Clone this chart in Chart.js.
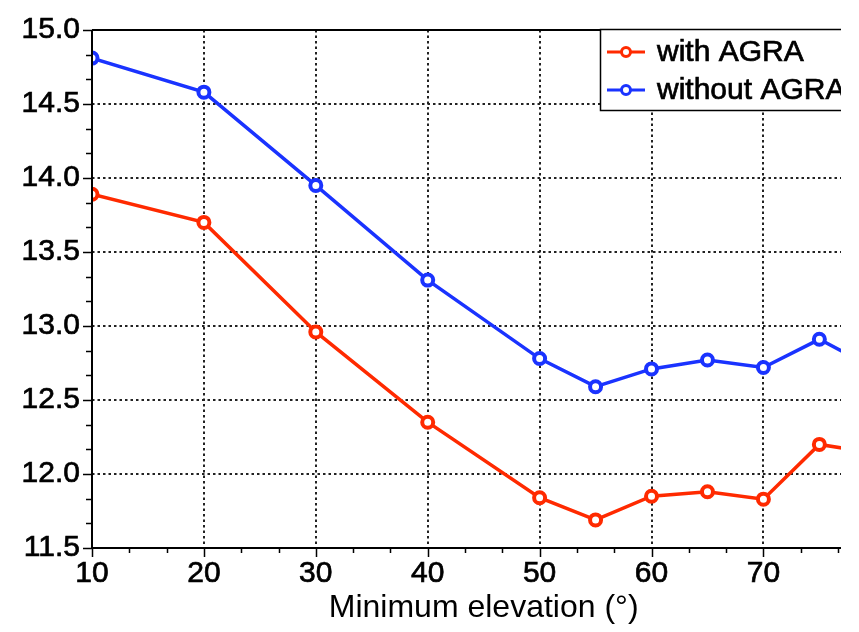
<!DOCTYPE html>
<html>
<head>
<meta charset="utf-8">
<script src="https://cdn.jsdelivr.net/npm/chart.js@4/dist/chart.umd.min.js"></script>
<style>
  html, body { margin: 0; background: #fff; }
  #wrap { width: 841px; height: 632px; overflow: hidden; }
  #box { width: 900px; height: 632px; position: relative; }
</style>
</head>
<body>
<div id="wrap"><div id="box"><canvas id="chart"></canvas></div></div>
<script>
// Data
const elevations = [10, 20, 30, 40, 50, 55, 60, 65, 70, 75, 80];
const withAgra = [13.89, 13.70, 12.96, 12.35, 11.84, 11.69, 11.85, 11.88, 11.83, 12.20, 12.14];
const withoutAgra = [14.81, 14.58, 13.95, 13.31, 12.78, 12.59, 12.71, 12.77, 12.72, 12.91, 12.71];
const seriesLabels = ['with AGRA', 'without AGRA'];
const seriesColors = ['#ff2a00', '#1a33ff'];

const FONT = "'Liberation Sans', Arial, sans-serif";

function toPoints(values) {
  return elevations.map((x, i) => ({ x: x, y: values[i] }));
}

// Frame, tick marks and legend box
const framePlugin = {
  id: 'frame',
  afterDraw(chart) {
    const ctx = chart.ctx;
    const area = chart.chartArea;
    const xs = chart.scales.x;
    const ys = chart.scales.y;
    ctx.save();
    ctx.strokeStyle = '#000';
    ctx.lineWidth = 2;
    ctx.setLineDash([]);
    ctx.beginPath();
    ctx.moveTo(area.left, area.top);
    ctx.lineTo(area.right, area.top);
    ctx.moveTo(area.left, area.top);
    ctx.lineTo(area.left, area.bottom);
    ctx.lineTo(area.right, area.bottom);
    ctx.stroke();

    // x ticks (major every 10, minor every 10/3)
    ctx.lineWidth = 1.5;
    ctx.beginPath();
    for (let i = 0; i <= 21; i++) {
      const v = 10 + i * 10 / 3;
      const px = Math.round(xs.getPixelForValue(v)) + 0.5;
      const len = i % 3 === 0 ? 9 : 5;
      ctx.moveTo(px, area.bottom);
      ctx.lineTo(px, area.bottom + len);
    }
    // y ticks (major every 0.5, minor every 0.5/3)
    for (let i = 0; i <= 21; i++) {
      const v = 11.5 + i * 0.5 / 3;
      const py = Math.round(ys.getPixelForValue(v)) + 0.5;
      const len = i % 3 === 0 ? 9 : 6;
      ctx.moveTo(area.left, py);
      ctx.lineTo(area.left - len, py);
    }
    ctx.stroke();

    // legend
    const lx = 600, ly = 29, lw = 300, lh = 81;
    ctx.fillStyle = '#fff';
    ctx.fillRect(lx, ly, lw, lh);
    ctx.lineWidth = 1.5;
    ctx.strokeStyle = '#000';
    ctx.strokeRect(lx + 0.5, ly + 0.5, lw, lh);
    ctx.font = '30px ' + FONT;
    ctx.textBaseline = 'middle';
    ctx.textAlign = 'left';
    seriesLabels.forEach((label, i) => {
      const y = ly + 23 + i * 38;
      ctx.strokeStyle = seriesColors[i];
      ctx.lineWidth = 3;
      ctx.beginPath();
      ctx.moveTo(607, y);
      ctx.lineTo(645, y);
      ctx.stroke();
      ctx.beginPath();
      ctx.arc(626, y, 4.5, 0, Math.PI * 2);
      ctx.fillStyle = '#fff';
      ctx.fill();
      ctx.stroke();
      ctx.fillStyle = '#000';
      ctx.strokeStyle = '#000';
      ctx.lineWidth = 0.7;
      ctx.fillText(label, 657, y + 1);
      ctx.strokeText(label, 657, y + 1);
    });
    ctx.restore();
  }
};

new Chart(document.getElementById('chart'), {
  type: 'line',
  data: {
    datasets: [
      { label: seriesLabels[0], data: toPoints(withAgra) },
      { label: seriesLabels[1], data: toPoints(withoutAgra) }
    ].map((ds, i) => Object.assign(ds, {
      borderColor: seriesColors[i],
      backgroundColor: '#fff',
      pointBackgroundColor: '#fff',
      pointBorderColor: seriesColors[i],
      pointBorderWidth: 4,
      pointRadius: 5.5,
      borderWidth: 3.5,
      tension: 0,
      fill: false
    }))
  },
  options: {
    responsive: true,
    maintainAspectRatio: false,
    animation: false,
    layout: { padding: { top: 20, right: 24, left: 0, bottom: 0 } },
    plugins: { legend: { display: false }, tooltip: { enabled: false } },
    scales: {
      x: {
        type: 'linear',
        min: 10,
        max: 80,
        afterFit(scale) { scale.height = 84; },
        grid: { color: '#222', lineWidth: 2, drawTicks: false },
        border: { display: false, dash: [2.5, 3] },
        ticks: {
          stepSize: 10,
          padding: 8,
          color: '#000',
          textStrokeColor: '#000',
          textStrokeWidth: 0.7,
          font: { family: FONT, size: 30 }
        },
        title: {
          display: true,
          text: 'Minimum elevation (°)',
          color: '#000',
          font: { family: FONT, size: 32 },
          padding: { top: 0, bottom: 5 }
        }
      },
      y: {
        min: 11.5,
        max: 15,
        afterFit(scale) { scale.width = 92; },
        grid: { color: '#222', lineWidth: 2, drawTicks: false },
        border: { display: false, dash: [2.5, 3] },
        ticks: {
          stepSize: 0.5,
          padding: 12,
          color: '#000',
          textStrokeColor: '#000',
          textStrokeWidth: 0.7,
          font: { family: FONT, size: 30 },
          callback: v => v.toFixed(1)
        }
      }
    }
  },
  plugins: [framePlugin]
});
</script>
</body>
</html>
